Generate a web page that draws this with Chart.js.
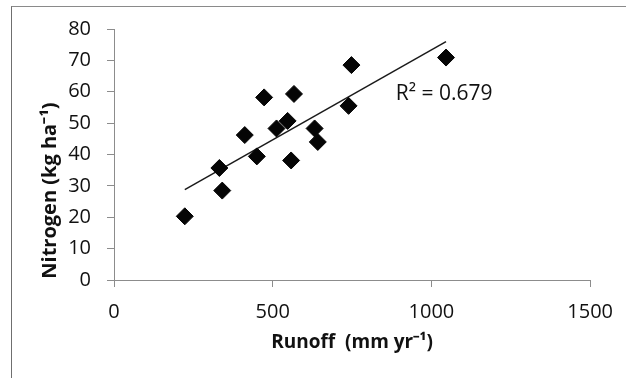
<!DOCTYPE html>
<html>
<head>
<meta charset="utf-8">
<script src="https://cdn.jsdelivr.net/npm/chart.js@4.4.0/dist/chart.umd.min.js"></script>
<style>
  html, body { margin: 0; padding: 0; background: #fff; }
  #wrap { position: relative; width: 626px; height: 378px; }
  #frame {
    position: absolute; left: 11px; top: 6px; right: 0; bottom: 0;
    border-top: 1px solid #8a8a8a; border-left: 1px solid #6f6f6f;
  }
  canvas { position: absolute; left: 0; top: 0; }
</style>
</head>
<body>
<div id="wrap">
  <div id="frame"></div>
  <canvas id="chart" width="626" height="378"></canvas>
</div>
<script>
// Annual runoff (mm/yr) vs nitrogen load (kg/ha)
const runoff = [223, 332, 341, 412, 450, 473, 512, 547, 567, 558, 632, 642, 739, 748, 1046];
const nitrogen = [20.3, 35.7, 28.5, 46.2, 39.4, 58.2, 48.3, 50.7, 59.3, 38.1, 48.3, 44.0, 55.5, 68.5, 70.9];
const xTicks = [0, 500, 1000, 1500];
const yTicks = [0, 10, 20, 30, 40, 50, 60, 70, 80];
const r2Text = 'R\u00B2 = 0.679';
const yTitle = 'Nitrogen (kg ha\u207B\u00B9)';
const xTitle = 'Runoff  (mm yr\u207B\u00B9)';

// least squares fit for the trendline
const n = runoff.length;
const mx = runoff.reduce((a, b) => a + b, 0) / n;
const my = nitrogen.reduce((a, b) => a + b, 0) / n;
let sxy = 0, sxx = 0;
for (let i = 0; i < n; i++) {
    sxy += (runoff[i] - mx) * (nitrogen[i] - my);
    sxx += (runoff[i] - mx) * (runoff[i] - mx);
}
const slope = sxy / sxx;
const intercept = my - slope * mx;
const xMin = Math.min(...runoff);
const xMax = Math.max(...runoff);

const points = runoff.map((x, i) => ({ x: x, y: nitrogen[i] }));
const trend = [
    { x: xMin, y: intercept + slope * xMin },
    { x: xMax, y: intercept + slope * xMax },
];

const axisGray = '#8c8c8c';
const textColor = '#111';
const tickFont = { family: 'Open Sans', size: 20 };
const titleFont = { family: 'Open Sans', size: 19, weight: 'bold' };

// R² label in data space next to the fit line, plus the y axis title
// (the title sits lower than the axis middle, so it is drawn by hand)
const extraText = {
    id: 'extraText',
    afterDraw(chart) {
        const { ctx, scales } = chart;
        ctx.save();
        ctx.fillStyle = textColor;
        ctx.font = '21px "Open Sans"';
        ctx.textAlign = 'left';
        ctx.textBaseline = 'middle';
        ctx.fillText(r2Text, scales.x.getPixelForValue(888), scales.y.getPixelForValue(59.3));

        ctx.translate(50, scales.y.getPixelForValue(28.5));
        ctx.rotate(-Math.PI / 2);
        ctx.font = 'bold 20px "Open Sans"';
        ctx.textAlign = 'center';
        ctx.fillText(yTitle, 0, 0);
        ctx.restore();
    }
};

const ctx = document.getElementById('chart').getContext('2d');
new Chart(ctx, {
    type: 'scatter',
    data: {
        datasets: [
            {
                label: 'Nitrogen',
                data: points,
                pointStyle: 'rectRot',
                pointRadius: 8.5,
                pointHoverRadius: 8.5,
                backgroundColor: '#050505',
                borderColor: '#050505',
                borderWidth: 1,
            },
            {
                label: 'Linear fit',
                type: 'line',
                data: trend,
                borderColor: '#1a1a1a',
                borderWidth: 1.5,
                pointRadius: 0,
                fill: false,
            },
        ],
    },
    options: {
        responsive: false,
        animation: false,
        layout: { padding: { left: 0, top: 29, right: 34, bottom: 0 } },
        plugins: {
            legend: { display: false },
            tooltip: { enabled: false },
        },
        scales: {
            x: {
                type: 'linear',
                min: 0,
                max: 1500,
                afterFit: (scale) => { scale.height = 98; },
                afterBuildTicks: (scale) => { scale.ticks = xTicks.map(v => ({ value: v })); },
                border: { color: axisGray, width: 1 },
                grid: { drawOnChartArea: false, tickLength: 7, color: axisGray },
                ticks: { color: textColor, font: tickFont, padding: 13, callback: (v) => String(v) },
                title: {
                    display: true,
                    text: xTitle,
                    color: textColor,
                    font: titleFont,
                    padding: { top: 0, bottom: 24 },
                },
            },
            y: {
                min: 0,
                max: 80,
                afterFit: (scale) => { scale.width = 114; },
                afterBuildTicks: (scale) => { scale.ticks = yTicks.map(v => ({ value: v })); },
                border: { color: axisGray, width: 1 },
                grid: { drawOnChartArea: false, tickLength: 7, color: axisGray },
                ticks: { color: textColor, font: tickFont, padding: 16, callback: (v) => String(v) },
            },
        },
    },
    plugins: [extraText],
});
</script>
</body>
</html>
